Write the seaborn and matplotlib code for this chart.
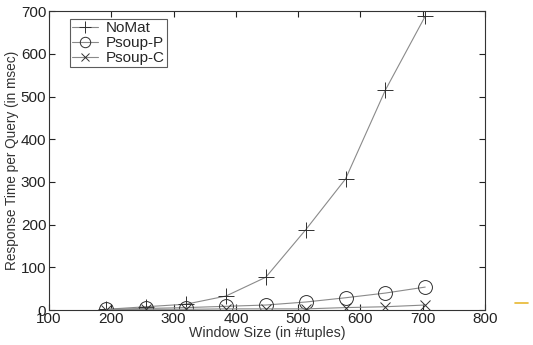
import matplotlib
matplotlib.use("Agg")
import matplotlib.pyplot as plt
import seaborn as sns
import pandas as pd
from matplotlib.lines import Line2D

# Data
window_size = [192, 256, 320, 384, 448, 512, 576, 640, 704]
nomat = [2, 8, 14, 33, 77, 188, 307, 515, 688]
psoup_p = [2, 4, 6, 9, 12, 19, 29, 40, 54]
psoup_c = [1, 2, 2, 3, 3, 3, 6, 8, 12]

series_names = ["NoMat", "Psoup-P", "Psoup-C"]
series_values = [nomat, psoup_p, psoup_c]
series_markers = ["+", "o", "x"]
series_msize = [11, 10, 7]

sns.set_style("ticks")
plt.rcParams["font.family"] = ["Liberation Sans", "DejaVu Sans"]

fig = plt.figure(figsize=(5.33, 3.45), dpi=100)
ax = fig.add_axes([0.092, 0.101, 0.818, 0.867])

for name, vals, mk, ms in zip(series_names, series_values, series_markers, series_msize):
    df = pd.DataFrame({"x": window_size, "y": vals})
    sns.lineplot(data=df, x="x", y="y", ax=ax, color="#8a8a8a", linewidth=0.8,
                 marker=mk, markersize=ms, markeredgecolor="#303030",
                 markerfacecolor="none", markeredgewidth=0.7, label=name)

ax.set_xlim(100, 800)
ax.set_ylim(0, 700)
ax.set_xticks(range(100, 801, 100))
ax.set_yticks(range(0, 701, 100))
ax.tick_params(direction="in", top=True, right=True, length=4, width=0.8,
               labelsize=11, colors="#222222")
ax.tick_params(axis="x", pad=1)
ax.tick_params(axis="y", pad=2)
for s in ax.spines.values():
    s.set_linewidth(0.8)
    s.set_color("#333333")

ax.set_xlabel("Window Size (in #tuples)", fontsize=10.2, labelpad=0, color="#333333")
ax.set_ylabel("Response Time per Query (in msec)", fontsize=9.8, labelpad=1, color="#333333")

leg = ax.legend(loc="upper left", bbox_to_anchor=(0.048, 0.973), fontsize=11,
                frameon=True, fancybox=False, edgecolor="#333333",
                handlelength=1.7, borderpad=0.15, labelspacing=0.05,
                handletextpad=0.5, borderaxespad=0, markerscale=0.75)
leg.get_frame().set_linewidth(0.8)

# small orange artifact at right edge
fig.add_artist(Line2D([0.966, 0.99], [0.122, 0.122], color="#e8b830", linewidth=1.2))

fig.savefig("out.png", dpi=100)
